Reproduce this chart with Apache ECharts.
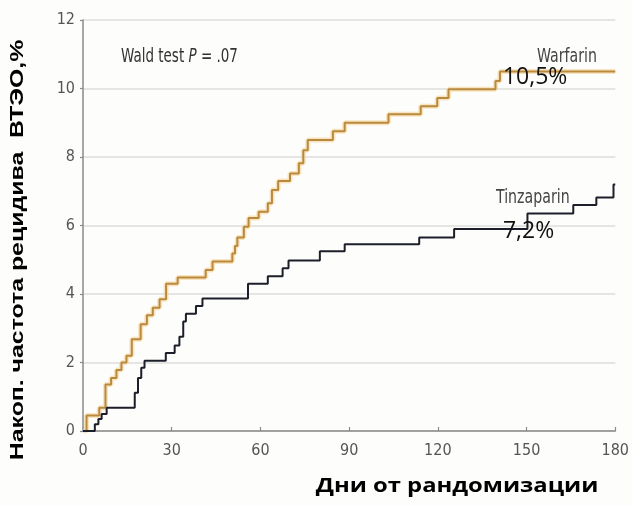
<!DOCTYPE html>
<html>
<head>
<meta charset="utf-8">
<script src="https://cdn.jsdelivr.net/npm/echarts@6/dist/echarts.min.js"></script>
<style>
  html, body { margin: 0; padding: 0; background: #fdfdfb; }
  #chart { width: 632px; height: 506px; }
</style>
</head>
<body>
<div id="chart"></div>
<script>
// Cumulative VTE recurrence, step curves: [day of event, cumulative %]
const warfarinSteps = [
  [0, 0], [1.2, 0.45], [5.5, 0.68], [7.6, 1.36], [9.5, 1.55], [11.3, 1.78],
  [13, 2.0], [14.7, 2.2], [16.5, 2.68], [19.5, 3.12], [21.6, 3.38], [23.6, 3.6],
  [25.9, 3.85], [28.1, 4.3], [32, 4.48], [41.5, 4.7], [43.8, 4.95], [50.5, 5.18],
  [51.4, 5.4], [52.2, 5.65], [54.4, 5.96], [56, 6.22], [59.4, 6.4], [62.5, 6.65],
  [63.9, 7.04], [66, 7.3], [70, 7.52], [73, 7.82], [74.5, 8.2], [76, 8.5],
  [84.5, 8.75], [88.5, 9.0], [103.3, 9.25], [114.2, 9.48], [119.8, 9.72],
  [123.6, 9.98], [139.5, 10.22], [141, 10.5], [180, 10.5]
];
const tinzaparinSteps = [
  [0, 0], [4, 0.2], [5.2, 0.35], [6.3, 0.5], [8, 0.68], [17.5, 1.12], [18.6, 1.55],
  [19.7, 1.85], [20.8, 2.05], [28, 2.28], [31, 2.5], [32.6, 2.75], [33.9, 3.2],
  [34.8, 3.42], [38.2, 3.65], [40.4, 3.87], [55.8, 4.3], [62.5, 4.52], [67.5, 4.75],
  [69.5, 4.98], [80.1, 5.25], [88.5, 5.45], [113.7, 5.65], [125.5, 5.9],
  [150.3, 6.35], [165.8, 6.6], [173.6, 6.82], [179.4, 7.2], [180, 7.2]
];
// Final cumulative rates shown next to the curves
const warfarinFinal = 10.5;
const tinzaparinFinal = 7.2;
const xTicks = [0, 30, 60, 90, 120, 150, 180];
const yTicks = [0, 2, 4, 6, 8, 10, 12];

const tickFont = "'Liberation Sans Narrow', 'DejaVu Sans Condensed', sans-serif";
const pct = v => String(v).replace('.', ',') + '%';

const chart = echarts.init(document.getElementById('chart'), null, { renderer: 'canvas' });

const finalLabel = (dy) => ({
  show: true, position: 'right', offset: [-2, dy],
  formatter: p => pct(p.value),
  color: '#111', fontFamily: "'Open Sans', sans-serif", fontSize: 23
});

chart.setOption({
  backgroundColor: '#fdfdfb',
  animation: false,
  grid: { left: 83, right: 13, top: 20, bottom: 75, containLabel: false },
  xAxis: {
    type: 'value', min: xTicks[0], max: xTicks[xTicks.length - 1], interval: 30,
    axisLine: { show: true, lineStyle: { color: '#8a8a8a', width: 1.5 } },
    axisTick: { show: true, inside: true, length: 4, lineStyle: { color: '#8a8a8a', width: 1.2 } },
    axisLabel: { color: '#555', fontFamily: tickFont, fontSize: 16, margin: 12 },
    splitLine: { show: false }
  },
  yAxis: {
    type: 'value', min: yTicks[0], max: yTicks[yTicks.length - 1], interval: 2,
    axisLine: { show: true, lineStyle: { color: '#8a8a8a', width: 1.5 } },
    axisTick: { show: true, inside: false, length: 3, lineStyle: { color: '#8a8a8a', width: 1.2 } },
    axisLabel: { color: '#555', fontFamily: tickFont, fontSize: 16, margin: 8 },
    splitLine: { show: true, lineStyle: { color: '#dcdcdc', width: 1.5 } }
  },
  series: [
    {
      // soft halo under the warfarin curve
      name: 'Warfarin halo', type: 'line', step: 'end', data: warfarinSteps,
      symbol: 'none', silent: true,
      lineStyle: { color: '#f6d9a6', width: 5, opacity: 0.7 }
    },
    {
      name: 'Warfarin', type: 'line', step: 'end', data: warfarinSteps,
      symbol: 'none',
      lineStyle: { color: '#b98a3e', width: 2 },
      markPoint: {
        symbol: 'circle', symbolSize: 0,
        data: [{ coord: [141, warfarinFinal], value: warfarinFinal }],
        label: finalLabel(6)
      }
    },
    {
      name: 'Tinzaparin', type: 'line', step: 'end', data: tinzaparinSteps,
      symbol: 'none',
      lineStyle: { color: '#1c1f2a', width: 2 },
      markPoint: {
        symbol: 'circle', symbolSize: 0,
        data: [{ coord: [141, tinzaparinFinal], value: tinzaparinFinal }],
        label: finalLabel(47)
      }
    }
  ],
  graphic: [
    {
      type: 'text', x: 121, y: 47, scaleY: 1.35,
      style: {
        rich: {
          n: { fontFamily: tickFont, fontSize: 15, fill: '#333' },
          i: { fontFamily: tickFont, fontSize: 15, fontStyle: 'italic', fill: '#333' }
        },
        text: '{n|Wald test }{i|P}{n| = .07}',
        textVerticalAlign: 'top'
      }
    },
    {
      type: 'text', x: 537, y: 47, scaleX: 1.05, scaleY: 1.35,
      style: { text: 'Warfarin', fontFamily: tickFont, fontSize: 15, fill: '#444', textVerticalAlign: 'top' }
    },
    {
      type: 'text', x: 496, y: 188, scaleX: 1.05, scaleY: 1.35,
      style: { text: 'Tinzaparin', fontFamily: tickFont, fontSize: 15, fill: '#444', textVerticalAlign: 'top' }
    },
    {
      type: 'text', x: 18, y: 250, rotation: Math.PI / 2, scaleX: 1.38,
      style: {
        text: 'Накоп. частота рецидива  ВТЭО,%',
        fontFamily: "'Liberation Sans', Arial, sans-serif", fontWeight: 'bold', fontSize: 18,
        fill: '#000', textAlign: 'center', textVerticalAlign: 'middle'
      }
    },
    {
      type: 'text', x: 457, y: 486, scaleX: 1.19,
      style: {
        text: 'Дни от рандомизации',
        fontFamily: "'Open Sans', sans-serif", fontWeight: 'bold', fontSize: 20,
        fill: '#000', textAlign: 'center', textVerticalAlign: 'middle'
      }
    }
  ]
});
</script>
</body>
</html>
